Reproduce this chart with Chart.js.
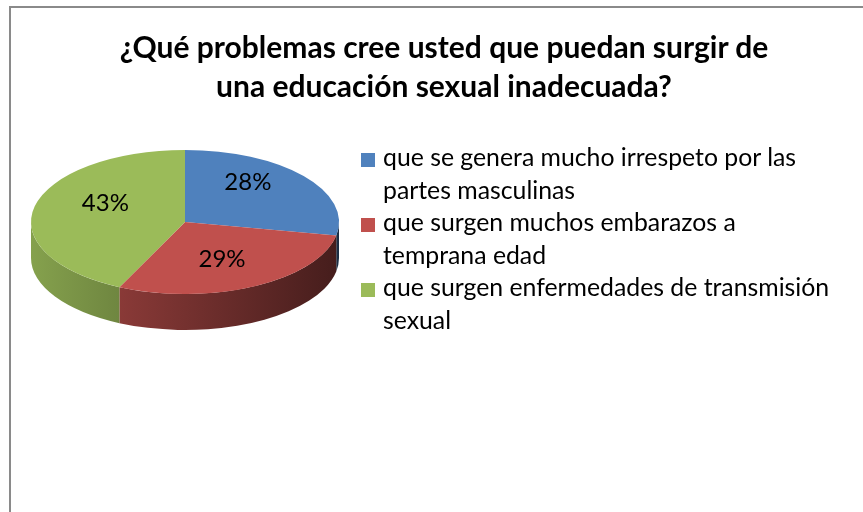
<!DOCTYPE html>
<html>
<head>
<meta charset="utf-8">
<script src="https://cdn.jsdelivr.net/npm/chart.js@4"></script>
<style>
  html, body { margin: 0; padding: 0; background: #fff; overflow: hidden; }
  #wrap { position: relative; width: 863px; height: 512px; overflow: hidden; }
  #frame { position: absolute; left: 9px; top: 6px; width: 900px; height: 600px;
           border-left: 2px solid #8a8a8a; border-top: 2px solid #8a8a8a; }
  #title { position: absolute; left: 0; width: 888px; top: 27px; text-align: center;
           font-family: Lato, sans-serif; font-weight: bold; font-size: 30px; line-height: 39px; color: #000; }
  #legend { position: absolute; left: 361px; top: 141px; font-family: Lato, sans-serif;
            font-size: 24.8px; line-height: 32.5px; color: #000; }
  .item { position: relative; padding-left: 22px; white-space: nowrap; }
  .box { position: absolute; left: 0; top: 12px; width: 14px; height: 14px; }
  canvas { position: absolute; left: 0; top: 0; }
</style>
</head>
<body>
<div id="wrap">
  <div id="frame"></div>
  <canvas id="pieChart" width="863" height="512"></canvas>
  <div id="title">¿Qué problemas cree usted que puedan surgir de<br>una educación sexual inadecuada?</div>
  <div id="legend"></div>
</div>
<script>
const categories = [
  ["que se genera mucho irrespeto por las", "partes masculinas"],
  ["que surgen muchos embarazos a", "temprana edad"],
  ["que surgen enfermedades de transmisión", "sexual"]
];
const percentages = [28, 29, 43];
const colors = ["#4F81BD", "#C0504D", "#9BBB59"];

// tilt of the pie and thickness of its side
const tilt = 0.4675;
const depth = 36;

function shade(hex, f) {
  const n = parseInt(hex.slice(1), 16);
  const r = Math.round(((n >> 16) & 255) * f);
  const g = Math.round(((n >> 8) & 255) * f);
  const b = Math.round((n & 255) * f);
  return "rgb(" + r + "," + g + "," + b + ")";
}

const pie3d = {
  id: "pie3d",
  beforeDatasetsDraw(chart) {
    const ctx = chart.ctx;
    const arcs = chart.getDatasetMeta(0).data;
    const { x, y, outerRadius } = arcs[0].getProps(["x", "y", "outerRadius"]);
    const ry = outerRadius * tilt;
    ctx.save();
    arcs.forEach((arc, i) => {
      const a = Math.max(arc.startAngle, 0);
      const b = Math.min(arc.endAngle, Math.PI);
      if (b <= a) return;
      const grad = ctx.createLinearGradient(x - outerRadius, 0, x + outerRadius, 0);
      grad.addColorStop(0, shade(colors[i], 0.86));
      grad.addColorStop(1, shade(colors[i], 0.36));
      ctx.beginPath();
      ctx.ellipse(x, y, outerRadius, ry, 0, a, b);
      ctx.ellipse(x, y + depth, outerRadius, ry, 0, b, a, true);
      ctx.closePath();
      ctx.fillStyle = grad;
      ctx.fill();
    });
    ctx.restore();
    // squash the top face into an ellipse
    ctx.save();
    ctx.translate(x, y);
    ctx.scale(1, tilt);
    ctx.translate(-x, -y);
  },
  afterDatasetsDraw(chart) {
    const ctx = chart.ctx;
    ctx.restore();
    const data = chart.data.datasets[0].data;
    const total = data.reduce((s, v) => s + v, 0);
    ctx.save();
    ctx.font = "24px Lato, sans-serif";
    ctx.fillStyle = "#000";
    ctx.textAlign = "center";
    ctx.textBaseline = "middle";
    chart.getDatasetMeta(0).data.forEach((arc, i) => {
      const mid = (arc.startAngle + arc.endAngle) / 2;
      const lx = arc.x + Math.cos(mid) * arc.outerRadius * 0.53;
      const ly = arc.y + Math.sin(mid) * arc.outerRadius * tilt * 0.7 - 8;
      ctx.fillText(Math.round(data[i] / total * 100) + "%", lx, ly);
    });
    ctx.restore();
  }
};

const chart = new Chart(document.getElementById("pieChart").getContext("2d"), {
  type: "pie",
  data: {
    labels: categories,
    datasets: [{
      data: percentages,
      backgroundColor: colors,
      borderWidth: 0
    }]
  },
  options: {
    responsive: false,
    animation: false,
    events: [],
    layout: { padding: { left: 31, right: 524, top: 68, bottom: 136 } },
    plugins: {
      legend: { display: false },
      title: { display: false },
      tooltip: { enabled: false }
    }
  },
  plugins: [pie3d]
});

// legend with wrapped labels
const legend = document.getElementById("legend");
chart.data.labels.forEach((lines, i) => {
  const item = document.createElement("div");
  item.className = "item";
  const box = document.createElement("span");
  box.className = "box";
  box.style.background = chart.data.datasets[0].backgroundColor[i];
  item.appendChild(box);
  lines.forEach((line, j) => {
    if (j) item.appendChild(document.createElement("br"));
    item.appendChild(document.createTextNode(line));
  });
  legend.appendChild(item);
});
</script>
</body>
</html>
